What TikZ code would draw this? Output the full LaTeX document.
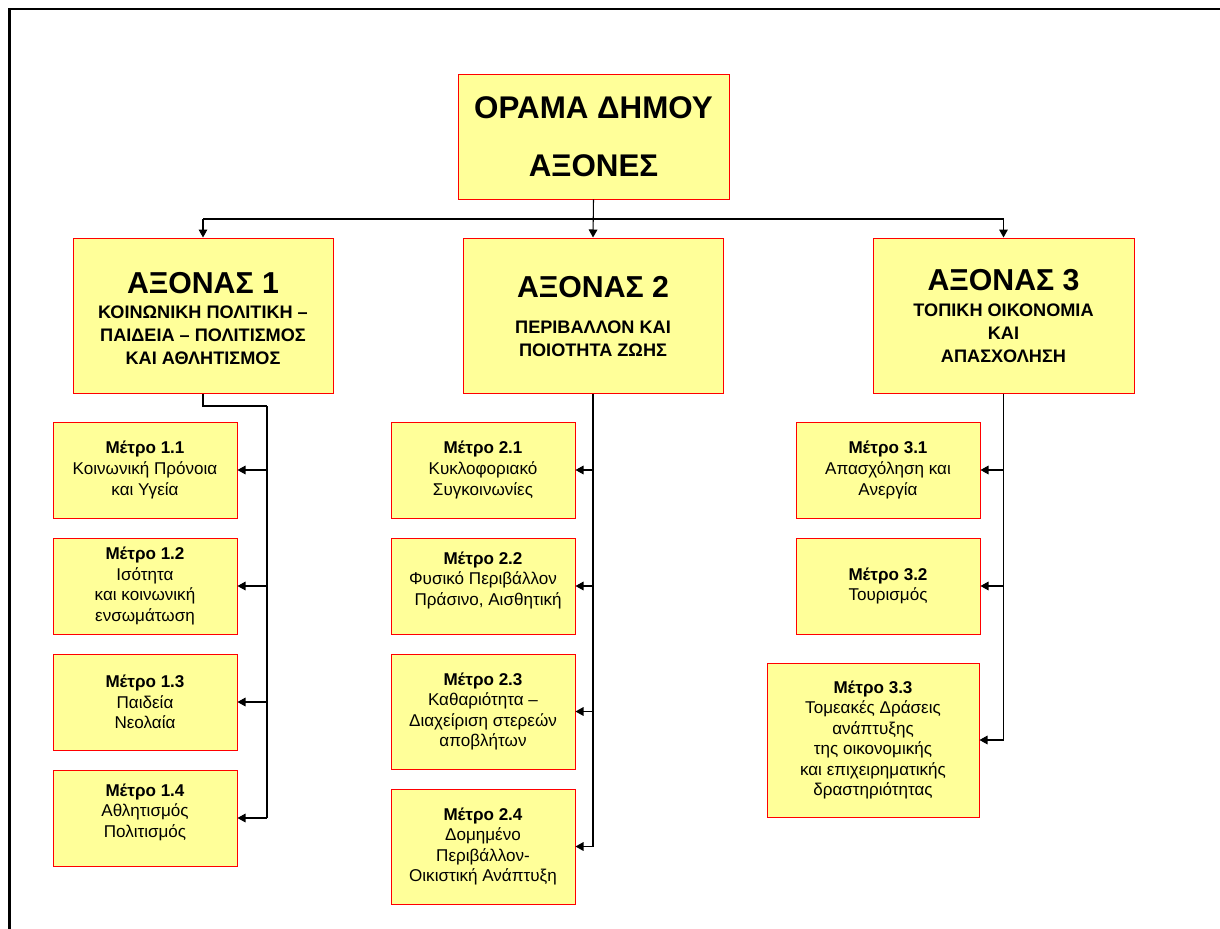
\documentclass[tikz,border=0pt]{standalone}
\usepackage{fontspec}
\setmainfont{Liberation Sans}
\usetikzlibrary{arrows.meta}
\definecolor{boxfill}{HTML}{FFFF99}
\definecolor{boxline}{HTML}{FF0000}
\begin{document}
\begin{tikzpicture}[x=0.75pt,y=-0.75pt,
  bx/.style 2 args={draw=boxline, fill=boxfill, line width=0.75pt, inner sep=0pt,
     minimum width=#1*0.75pt, minimum height=#2*0.75pt, align=center},
  mtext/.style={font=\fontsize{12.8}{15.4}\selectfont},
  hdr/.style={font=\fontsize{22.7}{26}\selectfont\bfseries, inner sep=0pt},
  sub/.style={font=\fontsize{13.6}{17.3}\selectfont\bfseries, align=center, inner sep=0pt},
  conn/.style={line width=0.8pt},
  arr/.style={line width=0.8pt, -{Triangle[length=6pt,width=6.5pt]}},
]
\useasboundingbox (0,0) rectangle (1220,928);
% frame
\draw[line width=1.7pt] (9.5,940) -- (9.5,9) -- (1230,9);

% title
\node[bx={271}{125}, font=\fontsize{23.5}{43.5}\selectfont\bfseries] (title) at (593.5,136.5) {ΟΡΑΜΑ ΔΗΜΟΥ\\ΑΞΟΝΕΣ};

% axes boxes
\node[bx={260}{155}] (a1) at (203,315.5) {};
\node[bx={260}{155}] (a2) at (593,315.5) {};
\node[bx={261}{155}] (a3) at (1003.5,315.5) {};
\node[hdr] (a1h) at (203,283) {ΑΞΟΝΑΣ 1};
\node[sub] (a1s) at (203,335) {ΚΟΙΝΩΝΙΚΗ ΠΟΛΙΤΙΚΗ –\\ΠΑΙΔΕΙΑ – ΠΟΛΙΤΙΣΜΟΣ\\ΚΑΙ ΑΘΛΗΤΙΣΜΟΣ};
\node[hdr] (a2h) at (593,287) {ΑΞΟΝΑΣ 2};
\node[sub] (a2s) at (593,338.5) {ΠΕΡΙΒΑΛΛΟΝ ΚΑΙ\\ΠΟΙΟΤΗΤΑ ΖΩΗΣ};
\node[hdr] (a3h) at (1003.5,280) {ΑΞΟΝΑΣ 3};
\node[sub] (a3s) at (1003.5,333.5) {ΤΟΠΙΚΗ ΟΙΚΟΝΟΜΙΑ\\ΚΑΙ\\ΑΠΑΣΧΟΛΗΣΗ};

% measures axis 1
\node[bx={184}{96}, mtext] (m11) at (145,470) {\textbf{Μέτρο 1.1}\\Κοινωνική Πρόνοια\\και Υγεία};
\node[bx={184}{96}, mtext] (m12) at (145,586) {\textbf{Μέτρο 1.2}\\Ισότητα\\και κοινωνική\\ενσωμάτωση};
\node[bx={184}{96}, mtext] (m13) at (145,702) {\textbf{Μέτρο 1.3}\\Παιδεία\\Νεολαία};
\node[bx={184}{96}, mtext] (m14) at (145,818) {\textbf{Μέτρο 1.4}\\Αθλητισμός\\Πολιτισμός\\[-4pt]\mbox{}};

% measures axis 2
\node[bx={184}{96}, mtext] (m21) at (483,470) {\textbf{Μέτρο 2.1}\\Κυκλοφοριακό\\Συγκοινωνίες};
\node[bx={184}{96}, mtext] (m22) at (483,586) {\textbf{Μέτρο 2.2}\\Φυσικό Περιβάλλον\\\hspace*{0.6em}Πράσινο, Αισθητική\\[-4pt]\mbox{}};
\node[bx={184}{115}, mtext] (m23) at (483,711.5) {\textbf{Μέτρο 2.3}\\Καθαριότητα –\\Διαχείριση στερεών\\αποβλήτων};
\node[bx={184}{115}, mtext] (m24) at (483,846.5) {\textbf{Μέτρο 2.4}\\Δομημένο\\Περιβάλλον-\\Οικιστική Ανάπτυξη};

% measures axis 3
\node[bx={184}{96}, mtext] (m31) at (888,470) {\textbf{Μέτρο 3.1}\\Απασχόληση και\\Ανεργία};
\node[bx={184}{96}, mtext] (m32) at (888,586) {\textbf{Μέτρο 3.2}\\Τουρισμός};
\node[bx={212}{154}, mtext] (m33) at (873,740) {\textbf{Μέτρο 3.3}\\Τομεακές Δράσεις\\ανάπτυξης\\της οικονομικής\\και επιχειρηματικής\\δραστηριότητας};

% top connectors
\coordinate (busL) at (203,219);
\coordinate (busR) at (1003.5,219);
\draw[conn] (busL) -- (busR);
\draw[arr] (title.south) -- (a2.north);
\draw[arr] (busL) -- (a1.north);
\draw[arr] (busR) -- (a3.north);

% axis 1 branch
\coordinate (b1) at (267,406);
\draw[line width=1.5pt] (a1.south) -- (a1.south |- b1) -- (b1);
\draw[conn] (b1) -- (b1 |- m14.east);
\foreach \m in {m11,m12,m13,m14} \draw[arr] (b1 |- \m.east) -- (\m.east);

% axis 2 branch
\draw[conn] (a2.south) -- (a2.south |- m24.east);
\foreach \m in {m21,m22,m23,m24} \draw[arr] (a2.south |- \m.east) -- (\m.east);

% axis 3 branch
\draw[conn] (a3.south) -- (a3.south |- m33.east);
\foreach \m in {m31,m32,m33} \draw[arr] (a3.south |- \m.east) -- (\m.east);
\end{tikzpicture}
\end{document}
